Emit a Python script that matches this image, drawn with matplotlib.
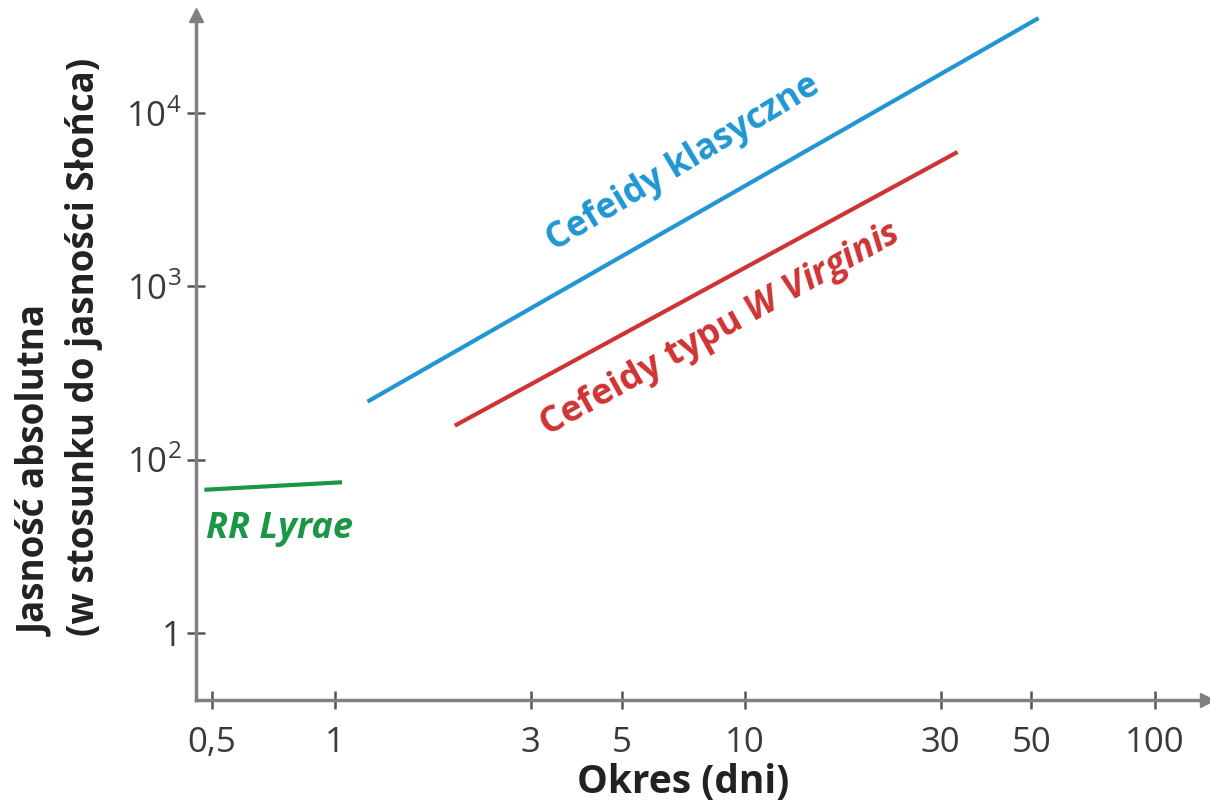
import numpy as np
import matplotlib
matplotlib.use("Agg")
import matplotlib.pyplot as plt

plt.rcParams['font.family'] = ['Open Sans', 'DejaVu Sans']
plt.rcParams['mathtext.fontset'] = 'custom'
plt.rcParams['mathtext.rm'] = 'Open Sans'
plt.rcParams['mathtext.it'] = 'Open Sans:italic:bold'
plt.rcParams['mathtext.bf'] = 'Open Sans:bold'

# ---- data ----
x_ticks = [0.5, 1, 3, 5, 10, 30, 50, 100]
x_tick_labels = ['0,5', '1', '3', '5', '10', '30', '50', '100']
y_ticks = [10, 100, 1000, 10000]
y_tick_labels = ['1', '$10^2$', '$10^3$', '$10^4$']

classical_period = [1.2, 52]
classical_lum = [216, 35300]
wvir_period = [1.96, 33]
wvir_lum = [157, 5960]
rrlyr_period = [0.48, 1.04]
rrlyr_lum = [67, 74]

blue = '#2196d3'
red = '#cf3434'
green = '#1b9646'
axis_gray = '#808080'
text_gray = '#3a3a3a'

fig = plt.figure(figsize=(12.1, 8.09), dpi=100)
W, H = 1210, 809
left, right, top, bottom = 196, 1207, 15, 700
ax = fig.add_axes([left / W, 1 - bottom / H, (right - left) / W, (bottom - top) / H])
ax.set_xscale('log')
ax.set_yscale('log')
ax.set_xlim(0.458, 134)
ax.set_ylim(4.1, 36800)

ax.plot(classical_period, classical_lum, color=blue, lw=3, solid_capstyle='butt')
ax.plot(wvir_period, wvir_lum, color=red, lw=3, solid_capstyle='butt')
ax.plot(rrlyr_period, rrlyr_lum, color=green, lw=3, solid_capstyle='butt')

for s in ['top', 'right']:
    ax.spines[s].set_visible(False)
for s in ['left', 'bottom']:
    ax.spines[s].set_color(axis_gray)
    ax.spines[s].set_linewidth(2.5)

ax.set_xticks(x_ticks)
ax.set_xticklabels(x_tick_labels)
ax.set_yticks(y_ticks)
ax.set_yticklabels(y_tick_labels)
ax.minorticks_off()
ax.tick_params(axis='both', direction='inout', length=13, width=1.8,
               color='#555555', labelcolor=text_gray, labelsize=25)
ax.tick_params(axis='x', pad=12)
ax.tick_params(axis='y', pad=4)

# arrows at ends of axes
ax.plot([0], [1], marker='^', color=axis_gray, markersize=10,
        transform=ax.transAxes, clip_on=False)
ax.plot([1], [0], marker='>', color=axis_gray, markersize=10,
        transform=ax.transAxes, clip_on=False)

ax.text(7.06, 5150, 'Cefeidy klasyczne', color=blue, fontsize=25.5,
        fontweight='bold', rotation=31, rotation_mode='anchor',
        ha='center', va='center')
ax.text(8.69, 561, r'Cefeidy typu $\mathit{W\ Virginis}$', color=red,
        fontsize=26, fontweight='bold', rotation=29, rotation_mode='anchor',
        ha='center', va='center')
ax.text(0.734, 40, 'RR Lyrae', color=green, fontsize=26,
        fontweight='bold', fontstyle='italic', ha='center', va='center')

fig.text(683 / W, 1 - 783 / H, 'Okres (dni)', fontsize=28, fontweight='bold',
         color='#222222', ha='center', va='center')
fig.text(60 / W, 1 - 636 / H,
         'Jasność absolutna\n(w stosunku do jasności Słońca)',
         fontsize=26.5, fontweight='bold', color='#222222', rotation=90,
         ha='center', va='bottom', multialignment='left', linespacing=1.35)

fig.savefig('out.png', dpi=100)
